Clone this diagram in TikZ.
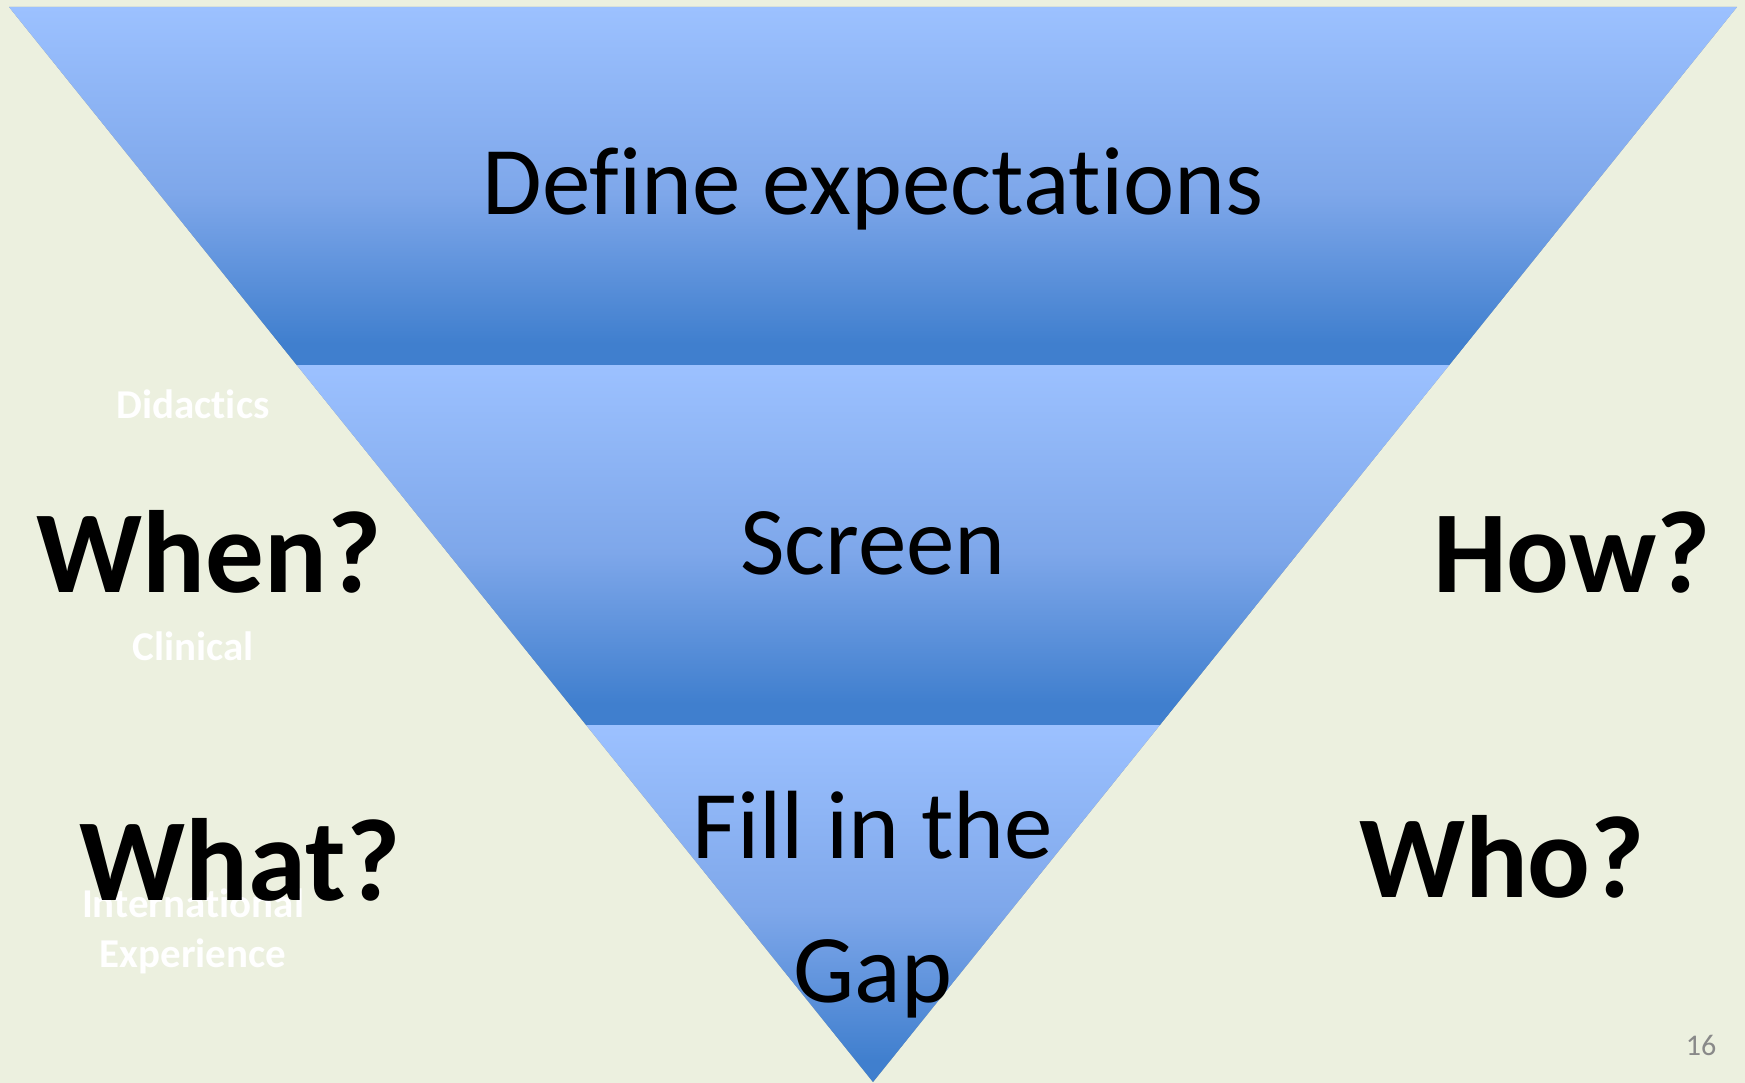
\documentclass[tikz,border=0pt]{standalone}
\usepackage{fontspec}
\setmainfont{Carlito}[Ligatures={NoCommon,NoRare,NoContextual}, RawFeature={-liga,-clig,-dlig}]
\definecolor{paper}{RGB}{236,240,223}
\definecolor{blight}{RGB}{156,193,255}
\definecolor{bmid}{RGB}{126,167,234}
\definecolor{bdark}{RGB}{64,127,206}
\definecolor{pnum}{RGB}{137,137,137}
% light at the top of each band, darkening towards its lower edge
\pgfdeclareverticalshading{band}{100bp}{color(0bp)=(bdark); color(28bp)=(bdark); color(49bp)=(bmid); color(75bp)=(blight); color(100bp)=(blight)}
\tikzset{
  bandtxt/.style={font=\fontsize{97}{116}\selectfont, text=black, anchor=base, inner sep=0pt},
  askq/.style={font=\bfseries\fontsize{117}{140}\selectfont, text=black, anchor=base, inner sep=0pt},
  tagtxt/.style={font=\bfseries\fontsize{41}{49}\selectfont, text=white, anchor=base, inner sep=0pt},
  bandfill/.style={shading=band},
}
\begin{document}
\begin{tikzpicture}[x=1pt,y=-1pt]
  % page
  \fill[paper] (0,0) rectangle (1745,1083);
  \useasboundingbox (0,0) rectangle (1745,1083);

  % funnel corners and band boundaries
  \coordinate (tl) at (9,7);
  \coordinate (tr) at (1737,7);
  \coordinate (tip) at (873,1082);
  \coordinate (ml) at (296.7,365);
  \coordinate (mr) at (1449.3,365);
  \coordinate (ll) at (586.1,725);
  \coordinate (lr) at (1159.9,725);

  % soft drop shadow below the funnel
  \foreach \d in {1,2,3,4,5}
    \fill[black, opacity=0.07, shift={(0.3*\d,0.9*\d)}] (tl) -- (tr) -- (tip) -- cycle;

  % the three bands
  \shade[bandfill] (tl) -- (tr) -- (mr) -- (ml) -- cycle;
  \shade[bandfill] (ml) -- (mr) -- (lr) -- (ll) -- cycle;
  \shade[bandfill] (ll) -- (lr) -- (tip) -- cycle;

  % band captions
  \node[bandtxt] (define) at (873,215) {Define expectations};
  \node[bandtxt] (screen) at (873,574) {Screen};
  \node[bandtxt] (fill) at (873,858) {Fill in the};
  \node[bandtxt] (gap) at (873,1002) {Gap};

  % faint side labels
  \node[tagtxt] (didactics) at (193,418) {Didactics};
  \node[tagtxt] (clinical) at (193,660) {Clinical};
  \node[tagtxt] (intl) at (193,917) {International};
  \node[tagtxt] (exper) at (193,967) {Experience};

  % questions
  \node[askq] (when) at (209,592) {When?};
  \node[askq] (how) at (1572,592) {How?};
  \node[askq] (what) at (240,900) {What?};
  \node[askq] (who) at (1502,897) {Who?};

  % slide number
  \node[font=\fontsize{30}{36}\selectfont, text=pnum, anchor=base, inner sep=0pt] (pageno) at (1701,1055) {16};
\end{tikzpicture}
\end{document}
